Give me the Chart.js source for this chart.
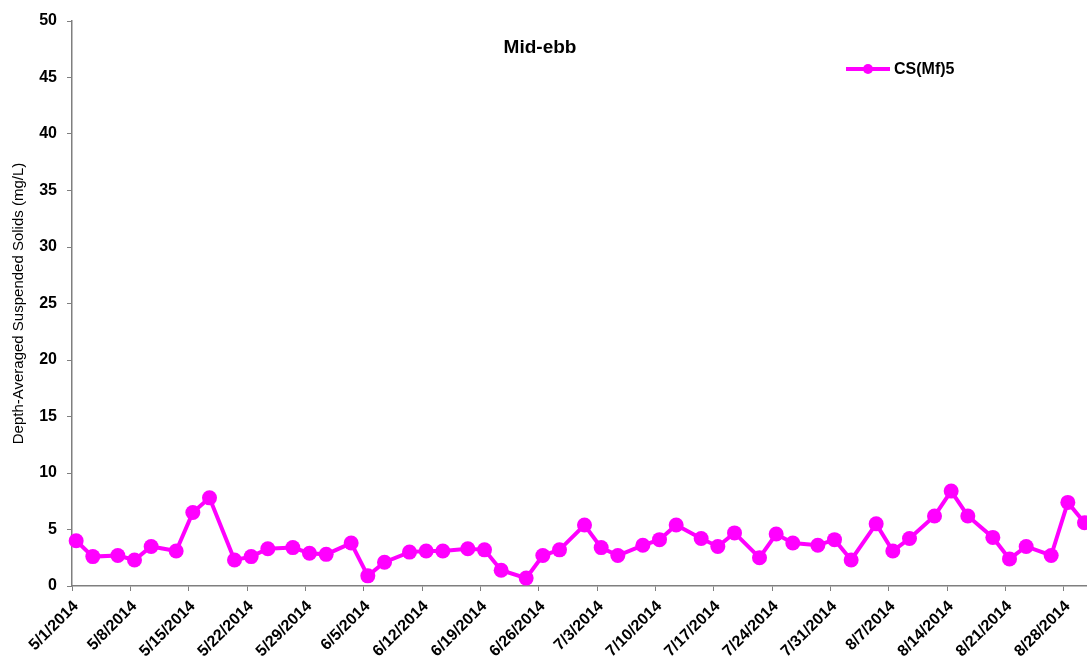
<!DOCTYPE html>
<html lang="en">
<head>
<meta charset="UTF-8">
<title>Mid-ebb</title>
<script src="https://cdn.jsdelivr.net/npm/chart.js"></script>
<style>
    body { margin: 0; background: #fff; overflow: hidden; }
    #wrap { width: 1087px; height: 662px; position: relative; }
</style>
</head>
<body>
<div id="wrap"><canvas id="tssChart"></canvas></div>
<script>
// sample dates and depth-averaged TSS (mg/L) for station CS(Mf)5, mid-ebb
var sampleDates = [
    '5/1/2014', '5/3/2014', '5/6/2014', '5/8/2014', '5/10/2014', '5/13/2014', '5/15/2014', '5/17/2014',
    '5/20/2014', '5/22/2014', '5/24/2014', '5/27/2014', '5/29/2014', '5/31/2014', '6/3/2014', '6/5/2014',
    '6/7/2014', '6/10/2014', '6/12/2014', '6/14/2014', '6/17/2014', '6/19/2014', '6/21/2014', '6/24/2014',
    '6/26/2014', '6/28/2014', '7/1/2014', '7/3/2014', '7/5/2014', '7/8/2014', '7/10/2014', '7/12/2014',
    '7/15/2014', '7/17/2014', '7/19/2014', '7/22/2014', '7/24/2014', '7/26/2014', '7/29/2014', '7/31/2014',
    '8/2/2014', '8/5/2014', '8/7/2014', '8/9/2014', '8/12/2014', '8/14/2014', '8/16/2014', '8/19/2014',
    '8/21/2014', '8/23/2014', '8/26/2014', '8/28/2014', '8/30/2014'
];
var tssValues = [
    4.0, 2.6, 2.7, 2.3, 3.5, 3.1, 6.5, 7.8,
    2.3, 2.6, 3.3, 3.4, 2.9, 2.8, 3.8, 0.9,
    2.1, 3.0, 3.1, 3.1, 3.3, 3.2, 1.4, 0.7,
    2.7, 3.2, 5.4, 3.4, 2.7, 3.6, 4.1, 5.4,
    4.2, 3.5, 4.7, 2.5, 4.6, 3.8, 3.6, 4.1,
    2.3, 5.5, 3.1, 4.2, 6.2, 8.4, 6.2, 4.3,
    2.4, 3.5, 2.7, 7.4, 5.6
];
var seriesName = 'CS(Mf)5';
var chartTitle = 'Mid-ebb';
var yTitle = 'Depth-Averaged Suspended Solids (mg/L)';

var startDate = '5/1/2014';
var endDay = 121.8; // axis runs a little past 8/31
var tickStepDays = 7;

function dayNumber(s) {
    var p = s.split('/');
    return Date.UTC(+p[2], +p[0] - 1, +p[1]) / 86400000;
}
function dayLabel(n) {
    var d = new Date((dayNumber(startDate) + n) * 86400000);
    return (d.getUTCMonth() + 1) + '/' + d.getUTCDate() + '/' + d.getUTCFullYear();
}

var base = dayNumber(startDate);
// samples taken around midday
var points = sampleDates.map(function (s, i) {
    return { x: dayNumber(s) - base + 0.5, y: tssValues[i] };
});

var magenta = '#ff00ff';
var axisColor = '#7f7f7f';
var fontFamily = '"Liberation Sans", Arial, sans-serif';

var annotate = {
    id: 'annotate',
    afterDraw: function (chart) {
        var ctx = chart.ctx;
        ctx.save();
        ctx.fillStyle = '#000';
        ctx.font = 'bold 19px ' + fontFamily;
        ctx.textAlign = 'center';
        ctx.textBaseline = 'middle';
        ctx.fillText(chartTitle, 540, 48);

        // legend entry
        var ds = chart.data.datasets[0];
        ctx.strokeStyle = ds.borderColor;
        ctx.lineWidth = 4;
        ctx.beginPath();
        ctx.moveTo(846, 69);
        ctx.lineTo(890, 69);
        ctx.stroke();
        ctx.fillStyle = ds.borderColor;
        ctx.beginPath();
        ctx.arc(868, 69, 5, 0, Math.PI * 2);
        ctx.fill();
        ctx.fillStyle = '#000';
        ctx.font = 'bold 16px ' + fontFamily;
        ctx.textAlign = 'left';
        ctx.fillText(ds.label, 894, 70);
        ctx.restore();
    }
};

var ctx = document.getElementById('tssChart').getContext('2d');
var tssChart = new Chart(ctx, {
    type: 'line',
    data: {
        datasets: [{
            label: seriesName,
            data: points,
            borderColor: magenta,
            backgroundColor: magenta,
            borderWidth: 4,
            pointRadius: 7.5,
            pointHoverRadius: 7.5,
            pointBorderWidth: 0,
            tension: 0,
            clip: false
        }]
    },
    options: {
        responsive: true,
        maintainAspectRatio: false,
        animation: false,
        layout: { autoPadding: false, padding: { top: 21, right: 0, left: 0, bottom: 0 } },
        plugins: {
            legend: { display: false },
            tooltip: { enabled: false }
        },
        scales: {
            x: {
                type: 'linear',
                min: 0,
                max: endDay,
                // weekly ticks starting at 5/1
                afterBuildTicks: function (s) {
                    var t = [];
                    for (var v = 0; v <= endDay; v += tickStepDays) t.push({ value: v });
                    s.ticks = t;
                },
                afterFit: function (s) {
                    s.height = 76;
                    s.paddingRight = 0;
                    s.paddingLeft = 0;
                },
                border: { color: axisColor, width: 1.5 },
                grid: { drawOnChartArea: false, drawTicks: true, tickLength: 5, color: axisColor },
                ticks: {
                    autoSkip: false,
                    maxRotation: 45,
                    minRotation: 45,
                    padding: 6,
                    labelOffset: 4,
                    color: '#000',
                    font: { family: fontFamily, size: 16, weight: 'bold' },
                    callback: function (v) { return dayLabel(v); }
                }
            },
            y: {
                min: 0,
                max: 50,
                afterFit: function (s) { s.width = 72; },
                border: { color: axisColor, width: 1.5 },
                grid: { drawOnChartArea: false, drawTicks: true, tickLength: 5, color: axisColor },
                ticks: {
                    stepSize: 5,
                    padding: 10,
                    color: '#000',
                    font: { family: fontFamily, size: 16, weight: 'bold' }
                },
                title: {
                    display: true,
                    text: yTitle,
                    color: '#000',
                    padding: { top: 10, bottom: 0 },
                    font: { family: fontFamily, size: 15 }
                }
            }
        }
    },
    plugins: [annotate]
});
</script>
</body>
</html>
